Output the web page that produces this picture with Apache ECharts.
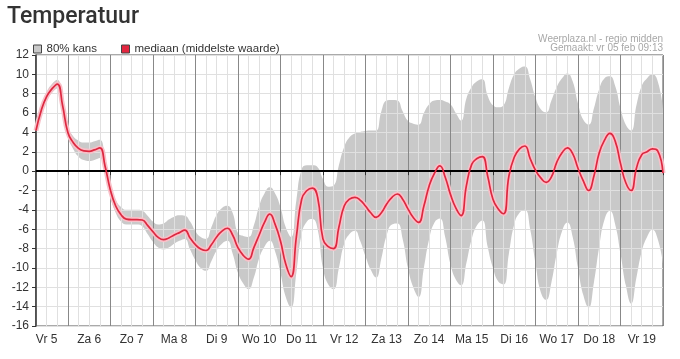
<!DOCTYPE html>
<html><head><meta charset="utf-8">
<script src="https://cdn.jsdelivr.net/npm/echarts@6/dist/echarts.min.js"></script>
<style>html,body{margin:0;padding:0;background:#fff}#c{width:680px;height:359px}</style>
</head><body><div id="c"></div>
<script>
// hours since Fri 5 Feb 00:00
const hours = [6,9,12,15,18,21,24,27,30,33,36,39,42,45,48,51,54,57,60,63,66,69,72,75,78,81,84,87,90,93,96,99,102,105,108,111,114,117,120,123,126,129,132,135,138,141,144,147,150,153,156,159,162,165,168,171,174,177,180,183,186,189,192,195,198,201,204,207,210,213,216,219,222,225,228,231,234,237,240,243,246,249,252,255,258,261,264,267,270,273,276,279,282,285,288,291,294,297,300,303,306,309,312,315,318,321,324,327,330,333,336,339,342,345,348,351,354,357,360];
const median = [4.2,6.3,7.7,8.5,9.0,6.8,4.0,2.95,2.35,2.1,2.05,2.2,2.4,0.5,-1.95,-3.6,-4.5,-4.95,-5.0,-5.0,-5.05,-5.6,-6.25,-6.85,-7.08,-6.9,-6.6,-6.35,-6.1,-6.9,-7.6,-8.05,-8.2,-7.6,-6.8,-6.2,-5.9,-6.6,-7.9,-8.7,-9.1,-7.9,-6.6,-5.3,-4.45,-5.5,-7.2,-9.6,-10.9,-6.8,-2.9,-2.0,-1.75,-2.7,-7.0,-7.8,-8.0,-5.8,-3.6,-2.9,-2.7,-3.0,-3.6,-4.3,-4.78,-4.3,-3.4,-2.7,-2.36,-2.9,-3.9,-4.8,-5.3,-3.6,-1.5,-0.2,0.55,-0.6,-2.4,-3.8,-4.6,-1.5,0.7,1.3,1.5,-0.5,-2.9,-3.9,-4.4,-0.5,1.43,2.3,2.6,1.3,0.1,-0.7,-1.16,-0.6,0.9,1.9,2.4,1.8,0.3,-1.0,-2.0,-0.5,1.9,3.2,3.9,3.1,0.8,-1.2,-2.0,0.3,1.7,2.0,2.3,2.1,-0.2];
const lower = [3.8,5.9,7.3,8.1,8.55,6.3,3.5,2.3,1.5,1.15,1.05,1.15,1.35,-0.3,-2.6,-4.3,-5.2,-5.5,-5.5,-5.5,-5.7,-6.5,-7.3,-7.9,-8.1,-7.9,-7.5,-7.2,-7.0,-8.1,-9.2,-10.0,-10.3,-9.3,-8.2,-7.5,-7.2,-8.5,-10.5,-11.6,-12.2,-11.0,-9.0,-7.8,-7.2,-8.3,-10.5,-13.0,-14.1,-10.5,-6.5,-5.2,-4.95,-6.0,-10.0,-11.7,-12.2,-10.0,-7.5,-6.5,-6.15,-7.2,-8.8,-10.2,-11.0,-9.0,-6.6,-5.5,-5.4,-7.0,-10.0,-12.0,-13.0,-10.0,-7.0,-5.3,-4.9,-6.8,-9.6,-11.2,-11.8,-9.5,-7.0,-5.6,-5.1,-7.8,-10.0,-11.4,-11.7,-8.5,-5.5,-4.3,-4.0,-6.0,-9.5,-12.5,-13.3,-11.5,-8.5,-6.2,-5.3,-6.8,-10.0,-12.8,-14.1,-11.5,-7.8,-5.0,-4.1,-5.5,-8.5,-11.8,-13.7,-11.0,-8.3,-6.8,-6.05,-7.0,-9.5];
const upper = [4.6,6.7,8.15,9.0,9.45,7.3,4.6,3.6,3.15,2.95,2.95,3.1,3.25,1.4,-1.3,-2.95,-3.7,-4.0,-4.0,-4.0,-4.1,-4.6,-5.2,-5.5,-5.4,-5.0,-4.7,-4.55,-4.6,-5.2,-6.2,-6.8,-7.0,-5.8,-4.5,-3.8,-3.57,-4.3,-6.4,-6.7,-6.8,-5.6,-3.6,-2.3,-1.67,-2.3,-3.7,-5.8,-6.8,-3.0,0.2,0.6,0.6,0.4,-0.8,-1.6,-1.5,0.6,2.5,3.5,3.9,4.05,4.15,4.19,4.2,6.2,7.29,7.35,7.3,6.2,5.2,4.9,4.8,6.0,6.9,7.3,7.35,7.2,6.9,6.0,5.22,7.5,8.7,9.3,9.5,7.8,6.8,6.6,6.8,8.6,10.0,10.6,10.8,9.5,7.6,6.4,6.08,7.3,8.7,9.6,10.1,9.3,7.0,5.3,4.8,6.5,8.5,9.6,9.8,8.8,6.5,4.8,4.19,6.8,8.8,9.6,10.0,9.3,6.5];
const dayLabels = ['Vr 5','Za 6','Zo 7','Ma 8','Di 9','Wo 10','Do 11','Vr 12','Za 13','Zo 14','Ma 15','Di 16','Wo 17','Do 18','Vr 19'];
const yMin = -16, yMax = 12, yStep = 2;

const cats = hours.map(String);
const bandWidth = upper.map((u, i) => +(u - lower[i]).toFixed(2));
const dayLabelFor = h => dayLabels[Math.floor(h / 24)] || '';
const FONT = "'Liberation Sans', Arial, sans-serif";

const chart = echarts.init(document.getElementById('c'), null, {renderer: 'canvas'});
chart.setOption({
  animation: false,
  grid: {left: 36, right: 17, top: 55, bottom: 33, show: true, borderColor: '#555', borderWidth: 1, backgroundColor: '#fff'},
  legend: {
    left: 28, top: 38, itemWidth: 8, itemHeight: 8, itemGap: 24, icon: 'rect', selectedMode: false,
    textStyle: {color: '#333', fontSize: 11.5, fontFamily: FONT},
    itemStyle: {borderColor: '#444', borderWidth: 1},
    data: [
      {name: '80% kans', itemStyle: {color: '#c9c9c9', borderColor: '#444', borderWidth: 1}},
      {name: 'mediaan (middelste waarde)', itemStyle: {color: '#e3263f', borderColor: '#444', borderWidth: 1}}
    ]
  },
  graphic: [
    {type: 'text', left: 7, top: 6, style: {text: 'Temperatuur', font: '500 23px Roboto', fill: '#333'}},
    {type: 'text', right: 17, top: 34, style: {text: 'Weerplaza.nl - regio midden', font: "10px 'Liberation Sans'", fill: '#a8a8a8'}},
    {type: 'text', right: 17, top: 43, style: {text: 'Gemaakt: vr 05 feb 09:13', font: "10px 'Liberation Sans'", fill: '#a8a8a8'}}
  ],
  xAxis: [
    {
      type: 'category', data: cats, boundaryGap: false, z: 2,
      axisLine: {lineStyle: {color: '#333', width: 1.5}},
      axisTick: {show: true, interval: (i, v) => (+v) % 24 === 0, length: 4, lineStyle: {color: '#333'}},
      axisLabel: {interval: (i, v) => (+v) % 24 === 12, formatter: v => dayLabelFor(+v), color: '#333', fontSize: 12, fontFamily: FONT, margin: 8},
      splitLine: {show: true, interval: (i, v) => (+v) % 6 === 0, lineStyle: {color: '#e0e0e0', width: 1}}
    },
    {
      type: 'category', data: cats, boundaryGap: false, z: 2, position: 'bottom',
      axisLine: {show: false}, axisTick: {show: false}, axisLabel: {show: false},
      splitLine: {show: true, interval: (i, v) => (+v) % 24 === 0, lineStyle: {color: '#888', width: 1}}
    }
  ],
  yAxis: {
    type: 'value', min: yMin, max: yMax, interval: yStep, z: 2,
    axisLine: {show: true, lineStyle: {color: '#333', width: 1.5}},
    axisTick: {show: true, length: 4, lineStyle: {color: '#333'}},
    axisLabel: {color: '#333', fontSize: 12, fontFamily: FONT, margin: 7},
    splitLine: {show: true, lineStyle: {color: '#e0e0e0'}}
  },
  series: [
    {name: 'base', type: 'line', data: lower, stack: 'band', stackStrategy: 'all', smooth: true, symbol: 'none', lineStyle: {opacity: 0}, z: 1, silent: true},
    {name: '80% kans', type: 'line', data: bandWidth, stack: 'band', stackStrategy: 'all', smooth: true, symbol: 'none', lineStyle: {opacity: 0}, areaStyle: {color: '#c9c9c9', opacity: 1}, itemStyle: {color: '#c9c9c9'}, z: 1, silent: true},
    {name: 'halo', type: 'line', data: median, smooth: true, symbol: 'none', lineStyle: {color: '#f8c0c8', width: 5}, z: 4, silent: true,
      markLine: {silent: true, symbol: 'none', label: {show: false}, lineStyle: {color: '#000', width: 2, type: 'solid'}, data: [{yAxis: 0}]}},
    {name: 'mediaan (middelste waarde)', type: 'line', data: median, smooth: true, symbol: 'none', lineStyle: {color: '#dd2840', width: 1.7}, itemStyle: {color: '#e3263f'}, z: 5, silent: true}
  ]
});
</script>
</body></html>
